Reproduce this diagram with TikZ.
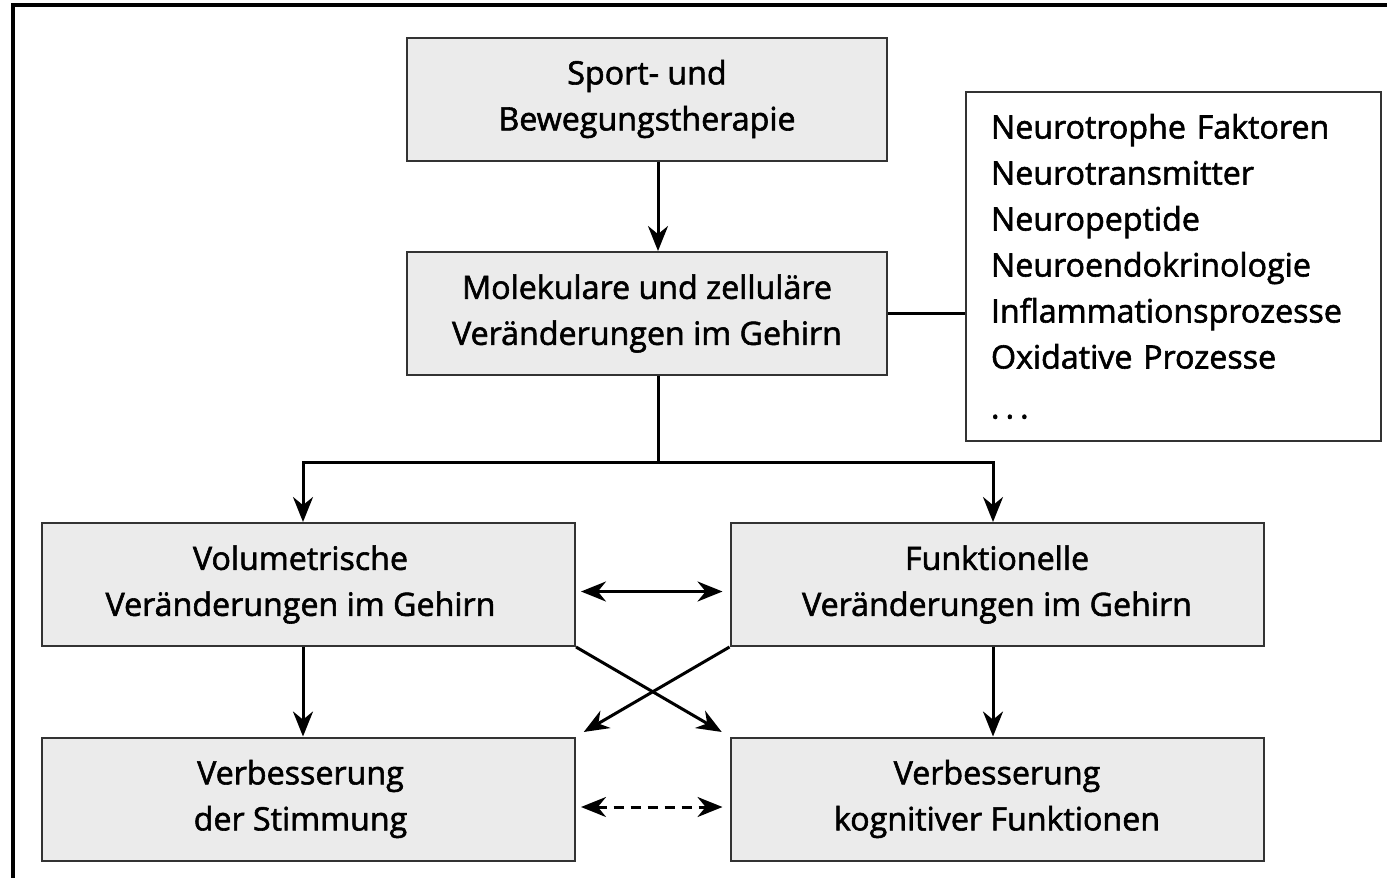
\documentclass[tikz,border=0pt]{standalone}
\usepackage{fontspec}
\setmainfont{Open Sans}
\newfontfamily\medfont{Open Sans}[FakeBold=1.8]
\usetikzlibrary{arrows.meta,calc}
\newcommand{\txtfont}{\medfont\fontsize{16.1}{23}\selectfont}
\newcommand{\lsh}{\kern8pt}
\begin{document}
\begin{tikzpicture}[x=0.5pt,y=-0.5pt,
  box/.style={draw=black!80, line width=1pt, fill=black!8, align=center,
    font=\txtfont, inner sep=0pt,
    minimum width=240pt, minimum height=61.5pt},
  lowbox/.style={box, minimum width=266.5pt},
  listbox/.style={draw=black!80, line width=1pt, fill=white, align=left,
    font=\txtfont, inner xsep=12.5pt, inner ysep=0pt,
    text width=182.5pt, minimum height=174.5pt, anchor=north west},
  link/.style={line width=1.5pt},
  conn/.style={line width=1.5pt, -{Stealth[length=12.5pt,width=10pt]}},
  dconn/.style={line width=1.5pt, {Stealth[length=12.5pt,width=10pt]}-{Stealth[length=12.5pt,width=10pt]}},
]
\useasboundingbox (0,0) rectangle (1387,878);
\fill[white] (0,0) rectangle (1387,878);
\draw[line width=2.2pt] (13,1000) -- (13,5) -- (1500,5);

\node[box] (sport) at (647,99) {Sport- und\\Bewegungstherapie};
\node[box] (mol) at (647,313.5) {Molekulare und zelluläre\\Veränderungen im Gehirn};
\node[listbox] (list) at (965,91) {Neurotrophe Faktoren\\Neurotransmitter\\Neuropeptide\\Neuroendokrinologie\\Inflammationsprozesse\\Oxidative Prozesse\\[2pt].\hspace{3pt}.\hspace{3pt}.};
\node[lowbox] (vol) at (308.5,584.5) {Volumetrische\lsh\\Veränderungen im Gehirn\lsh};
\node[lowbox] (funk) at (997,584.5) {Funktionelle\\Veränderungen im Gehirn};
\node[lowbox] (stim) at (308.5,799) {Verbesserung\lsh\\der Stimmung\lsh};
\node[lowbox] (kog) at (997,799) {Verbesserung\\kognitiver Funktionen};

\coordinate (j) at (658,462);

\draw[conn] ([xshift=5.5pt]sport.south) -- ([xshift=5.5pt]mol.north);
\draw[link] (mol.east) -- (mol.east -| list.west);
\draw[link] ([xshift=5.5pt]mol.south) -- (j);
\draw[conn] (j) -| ([xshift=-2.75pt]vol.north);
\draw[conn] (j) -| ([xshift=-2pt]funk.north);

\draw[dconn, shorten <=2.5pt, shorten >=3.5pt] ([yshift=-3.5pt]vol.east) -- ([yshift=-3.5pt]funk.west);
\draw[conn] ([xshift=-2.75pt]vol.south) -- ([xshift=-2.75pt]stim.north);
\draw[conn] ([xshift=-2pt]funk.south) -- ([xshift=-2pt]kog.north);
\draw[conn, shorten >=4.5pt] (vol.south east) -- (kog.north west);
\draw[conn, shorten >=4.5pt] (funk.south west) -- (stim.north east);
\draw[dconn, dash pattern=on 5pt off 3.5pt, shorten <=2.5pt, shorten >=3.5pt] ([yshift=-4pt]stim.east) -- ([yshift=-4pt]kog.west);
\end{tikzpicture}
\end{document}
